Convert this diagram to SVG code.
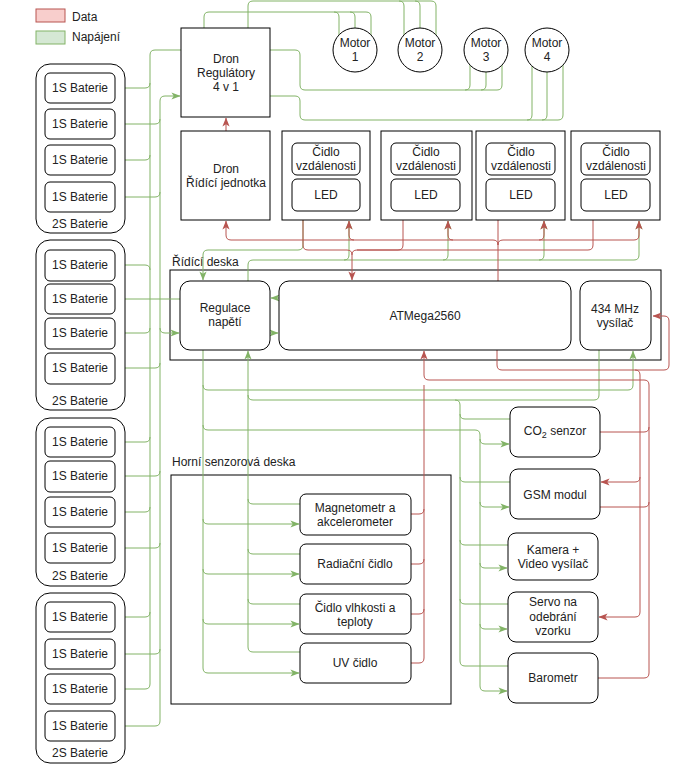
<svg xmlns="http://www.w3.org/2000/svg" width="679" height="764" viewBox="0 0 679 764">
<style>
.t{font-family:"Liberation Sans",Arial,sans-serif;font-size:12px;fill:#222;text-anchor:middle}
.tl{font-family:"Liberation Sans",Arial,sans-serif;font-size:12px;fill:#222}
.bx{fill:#fff;stroke:#000;stroke-width:1}
.g{fill:none;stroke:#82b366;stroke-width:1}
.r{fill:none;stroke:#b85450;stroke-width:1}
.ga{marker-end:url(#ag)}
.ra{marker-end:url(#ar)}
</style>
<defs>
<marker id="ag" viewBox="0 0 10 10" refX="9.5" refY="5" markerWidth="9" markerHeight="9" markerUnits="userSpaceOnUse" orient="auto"><path d="M0,1 L10,5 L0,9 L2.5,5 Z" fill="#82b366"/></marker>
<marker id="ar" viewBox="0 0 10 10" refX="9.5" refY="5" markerWidth="9" markerHeight="9" markerUnits="userSpaceOnUse" orient="auto"><path d="M0,1 L10,5 L0,9 L2.5,5 Z" fill="#b85450"/></marker>
</defs>
<rect width="679" height="764" fill="#fff"/>

<g id="legend">
<rect x="36" y="9" width="29" height="13" fill="#f8cecc" stroke="#b85450"/>
<text class="tl" x="72" y="21">Data</text>
<rect x="36" y="31" width="29" height="13" fill="#d5e8d4" stroke="#82b366"/>
<text class="tl" x="72" y="41">Napájení</text>
</g>

<g id="ridici-deska">
<rect class="bx" x="170" y="270" width="491" height="90"/>
<text class="tl" x="172" y="266">Řídící deska</text>
</g>
<g id="horni-senzorova-deska">
<rect x="171" y="475" width="280" height="229" fill="none" stroke="#000"/>
<text class="tl" x="172" y="466">Horní senzorová deska</text>
</g>

<g id="connectors">
<!-- battery buses -->
<path class="g" d="M181,50 H155 Q150,50 150,55 V684"/>
<path class="g" d="M150,83 Q150,88 145,88 H116" marker-end="url(#ag)"/>
<path class="g" d="M150,155 Q150,160 145,160 H116" marker-end="url(#ag)"/>
<path class="g" d="M150,328 Q150,333 145,333 H116" marker-end="url(#ag)"/>
<path class="g" d="M150,437 Q150,442 145,442 H116" marker-end="url(#ag)"/>
<path class="g" d="M150,507 Q150,512 145,512 H116" marker-end="url(#ag)"/>
<path class="g" d="M150,612 Q150,617 145,617 H116" marker-end="url(#ag)"/>
<path class="g" d="M150,684 Q150,689 145,689 H116" marker-end="url(#ag)"/>
<path class="g" d="M160,721 V101 Q160,96 165,96 H180" marker-end="url(#ag)"/>
<path class="g" d="M115,124 H155 Q160,124 160,119"/>
<path class="g" d="M115,197 H155 Q160,197 160,192"/>
<path class="g" d="M115,368 H155 Q160,368 160,363"/>
<path class="g" d="M115,476 H155 Q160,476 160,471"/>
<path class="g" d="M115,548 H155 Q160,548 160,543"/>
<path class="g" d="M115,654 H155 Q160,654 160,649"/>
<path class="g" d="M115,726 H155 Q160,726 160,721"/>
<path class="g" d="M115,265 H145 Q150,265 150,270"/>
<path class="g" d="M115,299 H180"/>
<path class="g" d="M160,328 Q160,333 165,333 H179" marker-end="url(#ag)"/>
<!-- small series arrows -->
<path class="g" d="M80,103 V109" marker-end="url(#ag)"/>
<path class="g" d="M80,175 V182" marker-end="url(#ag)"/>
<path class="g" d="M80,281 V284" marker-end="url(#ag)"/>
<path class="g" d="M80,349 V353" marker-end="url(#ag)"/>
<path class="g" d="M80,457 V461" marker-end="url(#ag)"/>
<path class="g" d="M80,527 V533" marker-end="url(#ag)"/>
<path class="g" d="M80,632 V639" marker-end="url(#ag)"/>
<path class="g" d="M80,704 V711" marker-end="url(#ag)"/>
<!-- motors -->
<path class="g" d="M204,28 V17 Q204,12 209,12 H366 Q371,12 371,17 V35"/>
<path class="g" d="M334,12 Q339,12 339,17 V35"/>
<path class="g" d="M350,12 Q355,12 355,17 V28"/>
<path class="g" d="M248,28 V6 Q248,1 253,1 H431 Q436,1 436,6 V35"/>
<path class="g" d="M399,1 Q404,1 404,6 V35"/>
<path class="g" d="M415,1 Q420,1 420,6 V28"/>
<path class="g" d="M270,50 H295 Q300,50 300,55 V85 Q300,90 305,90 H497 Q502,90 502,85 V65"/>
<path class="g" d="M465,90 Q470,90 470,85 V65"/>
<path class="g" d="M481,90 Q486,90 486,85 V72"/>
<path class="g" d="M270,96 H295 Q300,96 300,101 V115 Q300,120 305,120 H558 Q563,120 563,115 V65"/>
<path class="g" d="M527,120 Q532,120 532,115 V66"/>
<path class="g" d="M542,120 Q547,120 547,115 V72"/>
<!-- green top of board -->
<path class="g" d="M248,281 V265 Q248,260 253,260 H634 Q639,260 639,255 V221" marker-end="url(#ag)"/>
<path class="g" d="M344,260 Q349,260 349,255 V221" marker-end="url(#ag)"/>
<path class="g" d="M443,260 Q448,260 448,255 V221" marker-end="url(#ag)"/>
<path class="g" d="M539,260 Q544,260 544,255 V221" marker-end="url(#ag)"/>
<path class="g" d="M303,220 V245 Q303,250 298,250 H208 Q203,250 203,255 V280" marker-end="url(#ag)"/>
<path class="g" d="M279,298 H271" marker-end="url(#ag)"/>
<path class="g" d="M270,333 H278" marker-end="url(#ag)"/>
<!-- green below board -->
<path class="g" d="M203,350 V385 Q203,390 208,390 H628 Q633,390 633,385 V351" marker-end="url(#ag)"/>
<path class="g" d="M203,385 V425 Q203,430 208,430 H475 Q480,430 480,435 V686 Q480,691 485,691 H507" marker-end="url(#ag)"/>
<path class="g" d="M480,439 Q480,444 485,444 H509" marker-end="url(#ag)"/>
<path class="g" d="M480,502 Q480,507 485,507 H509" marker-end="url(#ag)"/>
<path class="g" d="M480,563 Q480,568 485,568 H507" marker-end="url(#ag)"/>
<path class="g" d="M480,624 Q480,629 485,629 H507" marker-end="url(#ag)"/>
<path class="g" d="M203,425 V668 Q203,673 208,673 H299" marker-end="url(#ag)"/>
<path class="g" d="M203,519 Q203,524 208,524 H299" marker-end="url(#ag)"/>
<path class="g" d="M203,569 Q203,574 208,574 H299" marker-end="url(#ag)"/>
<path class="g" d="M203,619 Q203,624 208,624 H299" marker-end="url(#ag)"/>
<path class="g" d="M599,350 V395 Q599,400 594,400 H253 Q248,400 248,395 V351" marker-end="url(#ag)"/>
<path class="g" d="M248,395 V647 Q248,652 253,652 H300"/>
<path class="g" d="M248,499 Q248,504 253,504 H300"/>
<path class="g" d="M248,549 Q248,554 253,554 H300"/>
<path class="g" d="M248,599 Q248,604 253,604 H300"/>
<path class="g" d="M455,400 Q460,400 460,405 V661 Q460,666 465,666 H508"/>
<path class="g" d="M460,414 Q460,419 465,419 H510"/>
<path class="g" d="M460,477 Q460,482 465,482 H510"/>
<path class="g" d="M460,540 Q460,545 465,545 H508"/>
<path class="g" d="M460,599 Q460,604 465,604 H508"/>
<!-- red -->
<path class="r" d="M226,131 V118" marker-end="url(#ar)"/>
<path class="r" d="M498,281 V220"/>
<path class="r" d="M498,245 Q498,240 493,240 H231 Q226,240 226,235 V221" marker-end="url(#ar)"/>
<path class="r" d="M354,240 Q349,240 349,235 V221" marker-end="url(#ar)"/>
<path class="r" d="M453,240 Q448,240 448,235 V221" marker-end="url(#ar)"/>
<path class="r" d="M498,245 Q498,240 503,240 H634 Q639,240 639,235 V221" marker-end="url(#ar)"/>
<path class="r" d="M539,240 Q544,240 544,235 V221" marker-end="url(#ar)"/>
<path class="r" d="M303,220 V245 Q303,250 308,250 H347 Q352,250 352,255 V280" marker-end="url(#ar)"/>
<path class="r" d="M403,220 V245 Q403,250 398,250 H357 Q352,250 352,255"/>
<path class="r" d="M593,220 V245 Q593,250 588,250 H357"/>
<path class="r" d="M497,350 V365 Q497,370 502,370 H664 Q669,370 669,365 V321 Q669,316 664,316 H653" marker-end="url(#ar)"/>
<path class="r" d="M635,370 Q640,370 640,375 V612 Q640,617 635,617 H599" marker-end="url(#ar)"/>
<path class="r" d="M640,477 Q640,482 635,482 H601" marker-end="url(#ar)"/>
<path class="r" d="M598,678 H644 Q649,678 649,673 V385 Q649,380 644,380 H429 Q424,380 424,375 V351" marker-end="url(#ar)"/>
<path class="r" d="M600,432 H644 Q649,432 649,427"/>
<path class="r" d="M600,507 H644 Q649,507 649,502"/>
<path class="r" d="M411,663 H419 Q424,663 424,658 V385"/>
<path class="r" d="M411,514 H419 Q424,514 424,509"/>
<path class="r" d="M411,564 H419 Q424,564 424,559"/>
<path class="r" d="M411,614 H419 Q424,614 424,609"/>
</g>

<g id="baterie-1">
<rect class="bx" x="36" y="64" width="89" height="169" rx="14"/>
<rect class="bx" x="45" y="73" width="70" height="30" rx="5"/><text class="t" x="80" y="92">1S Baterie</text>
<rect class="bx" x="45" y="109" width="70" height="30" rx="5"/><text class="t" x="80" y="128">1S Baterie</text>
<rect class="bx" x="45" y="145" width="70" height="30" rx="5"/><text class="t" x="80" y="164">1S Baterie</text>
<rect class="bx" x="45" y="182" width="70" height="30" rx="5"/><text class="t" x="80" y="201">1S Baterie</text>
<text class="t" x="80" y="228">2S Baterie</text>
</g>
<g id="baterie-2">
<rect class="bx" x="36" y="240" width="89" height="170" rx="14"/>
<rect class="bx" x="45" y="250" width="70" height="31" rx="5"/><text class="t" x="80" y="269">1S Baterie</text>
<rect class="bx" x="45" y="284" width="70" height="30" rx="5"/><text class="t" x="80" y="303">1S Baterie</text>
<rect class="bx" x="45" y="318" width="70" height="31" rx="5"/><text class="t" x="80" y="337">1S Baterie</text>
<rect class="bx" x="45" y="353" width="70" height="31" rx="5"/><text class="t" x="80" y="372">1S Baterie</text>
<text class="t" x="80" y="405">2S Baterie</text>
</g>
<g id="baterie-3">
<rect class="bx" x="36" y="418" width="89" height="168" rx="14"/>
<rect class="bx" x="45" y="427" width="70" height="30" rx="5"/><text class="t" x="80" y="446">1S Baterie</text>
<rect class="bx" x="45" y="461" width="70" height="31" rx="5"/><text class="t" x="80" y="480">1S Baterie</text>
<rect class="bx" x="45" y="497" width="70" height="30" rx="5"/><text class="t" x="80" y="516">1S Baterie</text>
<rect class="bx" x="45" y="533" width="70" height="30" rx="5"/><text class="t" x="80" y="552">1S Baterie</text>
<text class="t" x="80" y="580">2S Baterie</text>
</g>
<g id="baterie-4">
<rect class="bx" x="36" y="593" width="89" height="170" rx="14"/>
<rect class="bx" x="45" y="602" width="70" height="30" rx="5"/><text class="t" x="80" y="621">1S Baterie</text>
<rect class="bx" x="45" y="639" width="70" height="30" rx="5"/><text class="t" x="80" y="658">1S Baterie</text>
<rect class="bx" x="45" y="674" width="70" height="30" rx="5"/><text class="t" x="80" y="693">1S Baterie</text>
<rect class="bx" x="45" y="711" width="70" height="30" rx="5"/><text class="t" x="80" y="730">1S Baterie</text>
<text class="t" x="80" y="757">2S Baterie</text>
</g>

<g id="dron-regulatory">
<rect class="bx" x="181" y="28" width="89" height="89"/>
<text class="t" x="226" y="63">Dron</text><text class="t" x="226" y="77">Regulátory</text><text class="t" x="226" y="91">4 v 1</text>
</g>
<g id="dron-ridici-jednotka">
<rect class="bx" x="181" y="131" width="89" height="89"/>
<text class="t" x="226" y="173">Dron</text><text class="t" x="226" y="187">Řídící jednotka</text>
</g>

<g id="motor-1"><circle class="bx" cx="355" cy="50" r="22"/><text class="t" x="355" y="47">Motor</text><text class="t" x="355" y="61">1</text></g>
<g id="motor-2"><circle class="bx" cx="420" cy="50" r="22"/><text class="t" x="420" y="47">Motor</text><text class="t" x="420" y="61">2</text></g>
<g id="motor-3"><circle class="bx" cx="486" cy="50" r="22"/><text class="t" x="486" y="47">Motor</text><text class="t" x="486" y="61">3</text></g>
<g id="motor-4"><circle class="bx" cx="547" cy="50" r="22"/><text class="t" x="547" y="47">Motor</text><text class="t" x="547" y="61">4</text></g>

<g id="cidlo-1">
<rect class="bx" x="282" y="131" width="88" height="89"/>
<rect class="bx" x="292" y="143" width="68" height="32" rx="5"/><text class="t" x="326" y="156">Čidlo</text><text class="t" x="326" y="170">vzdálenosti</text>
<rect class="bx" x="292" y="179" width="68" height="32" rx="5"/><text class="t" x="326" y="199">LED</text>
</g>
<g id="cidlo-2">
<rect class="bx" x="381" y="131" width="91" height="89"/>
<rect class="bx" x="391" y="143" width="69" height="32" rx="5"/><text class="t" x="426" y="156">Čidlo</text><text class="t" x="426" y="170">vzdálenosti</text>
<rect class="bx" x="391" y="179" width="69" height="32" rx="5"/><text class="t" x="426" y="199">LED</text>
</g>
<g id="cidlo-3">
<rect class="bx" x="476" y="131" width="89" height="89"/>
<rect class="bx" x="486" y="143" width="69" height="32" rx="5"/><text class="t" x="521" y="156">Čidlo</text><text class="t" x="521" y="170">vzdálenosti</text>
<rect class="bx" x="486" y="179" width="69" height="32" rx="5"/><text class="t" x="521" y="199">LED</text>
</g>
<g id="cidlo-4">
<rect class="bx" x="571" y="131" width="89" height="89"/>
<rect class="bx" x="581" y="143" width="69" height="32" rx="5"/><text class="t" x="616" y="156">Čidlo</text><text class="t" x="616" y="170">vzdálenosti</text>
<rect class="bx" x="581" y="179" width="69" height="32" rx="5"/><text class="t" x="616" y="199">LED</text>
</g>

<g id="regulace-napeti">
<rect class="bx" x="180" y="281" width="90" height="69" rx="10"/>
<text class="t" x="225" y="312">Regulace</text><text class="t" x="225" y="326">napětí</text>
</g>
<g id="atmega2560">
<rect class="bx" x="279" y="281" width="292" height="69" rx="10"/>
<text class="t" x="425" y="320">ATMega2560</text>
</g>
<g id="vysilac-434">
<rect class="bx" x="580" y="281" width="71" height="69" rx="10"/>
<text class="t" x="615" y="313">434 MHz</text><text class="t" x="615" y="327">vysílač</text>
</g>

<g id="co2-senzor">
<rect class="bx" x="510" y="407" width="90" height="50" rx="8"/>
<text class="t" x="555" y="435">CO<tspan font-size="9" dy="3">2</tspan><tspan dy="-3"> senzor</tspan></text>
</g>
<g id="gsm-modul">
<rect class="bx" x="510" y="469" width="90" height="50" rx="8"/>
<text class="t" x="555" y="499">GSM modul</text>
</g>
<g id="kamera">
<rect class="bx" x="508" y="533" width="90" height="47" rx="8"/>
<text class="t" x="553" y="554">Kamera +</text><text class="t" x="553" y="568">Video vysílač</text>
</g>
<g id="servo">
<rect class="bx" x="508" y="592" width="90" height="50" rx="8"/>
<text class="t" x="553" y="606">Servo na</text><text class="t" x="553" y="621">odebrání</text><text class="t" x="553" y="635">vzorku</text>
</g>
<g id="barometr">
<rect class="bx" x="508" y="653" width="90" height="50" rx="8"/>
<text class="t" x="553" y="682">Barometr</text>
</g>

<g id="magnetometr">
<rect class="bx" x="300" y="494" width="111" height="41" rx="6"/>
<text class="t" x="355" y="512">Magnetometr a</text><text class="t" x="355" y="526">akcelerometer</text>
</g>
<g id="radiacni-cidlo">
<rect class="bx" x="300" y="544" width="111" height="40" rx="6"/>
<text class="t" x="355" y="568">Radiační čidlo</text>
</g>
<g id="cidlo-vlhkosti">
<rect class="bx" x="300" y="594" width="111" height="40" rx="6"/>
<text class="t" x="355" y="612">Čidlo vlhkosti a</text><text class="t" x="355" y="626">teploty</text>
</g>
<g id="uv-cidlo">
<rect class="bx" x="300" y="643" width="111" height="40" rx="6"/>
<text class="t" x="355" y="667">UV čidlo</text>
</g>
</svg>
